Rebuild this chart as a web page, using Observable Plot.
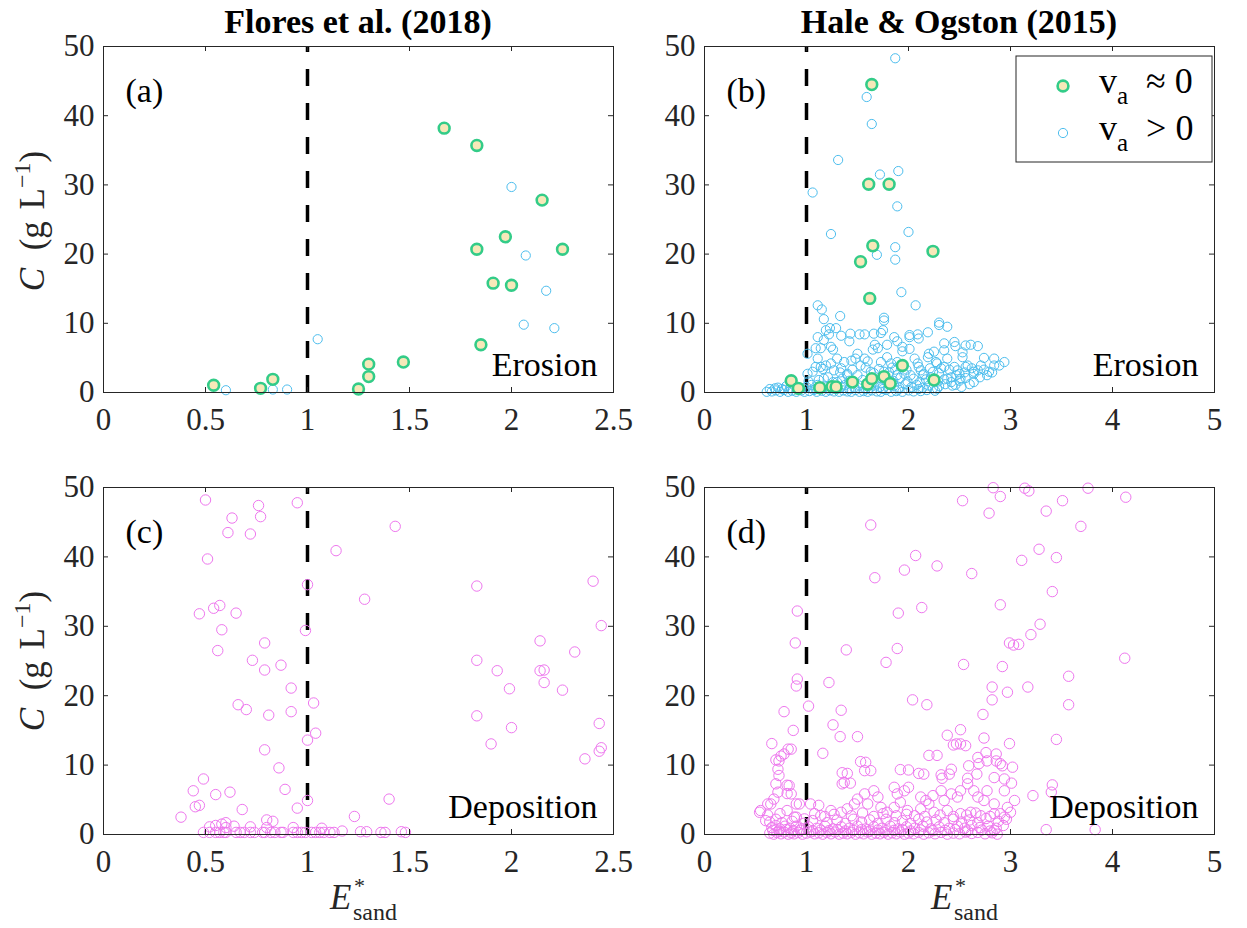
<!DOCTYPE html>
<html><head><meta charset="utf-8">
<script src="https://cdn.jsdelivr.net/npm/d3@7"></script>
<script src="https://cdn.jsdelivr.net/npm/@observablehq/plot@0.6"></script>
<style>
html,body{margin:0;padding:0;background:#fff;}
#fig{position:relative;width:1247px;height:928px;background:#fff;overflow:hidden;}
#fig > svg{position:absolute;}
</style></head><body><div id="fig"></div>
<script>
// ---------- data ----------
const titles = ["Flores et al. (2018)", "Hale & Ogston (2015)"];
const panelLetters = ["(a)", "(b)", "(c)", "(d)"];
const regimeWords = ["Erosion", "Deposition"];
const legendLabels = ["≈ 0", "> 0"];
const threshold = 1;
const xTicksFlores = [0, 0.5, 1, 1.5, 2, 2.5];
const xTicksHale = [0, 1, 2, 3, 4, 5];
const yTicks = [0, 10, 20, 30, 40, 50];

// Flores et al. erosion, v_a ≈ 0 (filled)
const floresEroStill = [[1.67,38.2],[1.83,35.7],[2.15,27.8],[1.97,22.5],[1.83,20.7],[2.25,20.7],[1.91,15.8],[2.0,15.5],[1.85,6.9],[1.47,4.4],[1.30,4.1],[1.30,2.3],[1.25,0.5],[0.54,1.05],[0.77,0.6],[0.83,1.9]];
// Flores et al. erosion, v_a > 0
const floresEroMoving = [[2.0,29.7],[2.07,19.8],[2.17,14.7],[2.06,9.8],[2.21,9.3],[1.05,7.7],[0.6,0.33],[0.83,0.43],[0.9,0.43]];
// Hale & Ogston erosion, v_a ≈ 0
const haleEroStill = [[1.64,44.5],[1.61,30.1],[1.81,30.1],[1.65,21.2],[1.53,18.9],[2.24,20.4],[1.62,13.6],[1.94,3.9],[0.85,1.7],[0.92,0.6],[1.13,0.7],[1.25,0.85],[1.29,0.8],[1.45,1.5],[1.6,1.2],[1.64,2.0],[1.76,2.3],[1.82,1.3],[2.25,1.8]];
// Hale & Ogston erosion, v_a > 0
const haleEroMoving = [
[1.87,48.3],[1.59,42.7],[1.64,38.8],[1.31,33.6],[1.72,31.5],[1.9,32.0],[1.06,28.9],[1.89,26.9],[1.24,22.9],[2.0,23.2],[1.87,21.0],[1.69,19.9],[1.87,19.2],[1.93,14.5],[2.07,12.6],[1.11,12.6],[1.15,12.0],[1.17,10.6],[1.33,11.05],[1.76,10.8],[1.76,10.4],[2.3,10.1],[2.3,9.75],[1.23,9.3],[1.11,8.0],[1.34,8.2],[1.52,8.4],[1.66,8.5],[1.75,9.0],[2.09,8.4],[2.01,8.0],[1.42,7.4],[1.89,7.4],[2.35,7.1],[2.46,6.7],[2.61,6.9],[2.53,5.8],[2.74,5.0],[2.84,3.9],[2.82,2.9],[2.68,3.2],[1.09,6.4],[1.24,6.6],[1.26,6.2],[1.94,6.6],[1.94,5.95],[1.65,6.2],[1.67,6.9],[1.79,6.9],[2.2,5.6],[2.25,5.9],[1.01,5.6],
[1.09,3.7],[1.19,3.9],[1.27,3.2],[1.37,4.4],[1.44,4.6],[1.5,5.6],[1.57,4.9],[1.4,2.7],[1.21,2.2],[1.83,4.2],[1.96,2.7],[2.09,4.2],[2.15,2.7],[2.28,4.2],[2.35,3.7],[2.42,2.2],[2.48,3.2],[2.56,3.7],[2.64,2.7],[2.43,1.0],[2.28,0.55],
[1.19,9.0],[1.29,9.3],[1.22,8.4],[1.17,7.6],[1.43,8.5],[1.57,8.4],[1.73,8.6],[1.86,8.0],[2.01,8.3],[2.1,7.8],[2.19,8.7],[2.38,9.5],[2.45,7.3],[2.56,6.8],[2.68,6.7],[2.84,4.9],[2.94,4.4],[1.14,6.4],[1.3,4.9],[1.34,3.5],[1.14,3.7],[1.24,4.2],[1.48,4.9],[1.53,3.9],[1.6,4.5],[1.7,6.4],[1.73,4.4],[1.79,5.1],[1.84,3.6],[1.89,4.4],[2.01,6.3],[2.06,4.9],[2.1,3.7],[2.19,5.1],[2.27,4.4],[2.32,3.5],[2.38,4.9],[2.45,3.7],[2.5,2.7],[2.58,3.9],[2.64,3.0],[2.71,3.9],[2.79,3.0],[2.89,3.9],[2.53,5.1],[2.35,6.1],[1.11,4.9],[1.01,2.7],[1.4,2.5],[1.5,2.5],[1.63,3.0],[1.76,3.0],[1.89,2.5],[2.02,2.5],[2.14,2.5],[2.24,3.0],[2.38,2.0],[2.51,2.0],[2.64,1.5],[1.17,2.0],[1.3,1.5],[1.11,1.1],
[0.61,0.1],[0.66,0.15],[0.7,0.3],[0.74,0.1],[0.78,0.35],[0.82,0.1],[0.86,0.25],[0.9,0.1],[0.95,0.3],[0.98,0.1],[1.03,0.2],[1.07,0.35],[1.1,0.1],[1.15,0.25],[1.19,0.1],[1.23,0.3],[1.27,0.15],[1.32,0.1],[1.36,0.3],[1.4,0.15],[1.44,0.1],[1.48,0.35],[1.52,0.1],[1.56,0.2],[1.6,0.1],[1.64,0.3],[1.69,0.15],[1.73,0.1],[1.78,0.35],[1.83,0.1],[1.88,0.2],[1.94,0.1],[2.0,0.3],[2.05,0.15],[2.12,0.2],[2.18,0.35],[2.26,0.25],
[0.64,0.5],[0.69,0.6],[0.76,0.5],[0.84,0.6],[0.92,0.4],[1.09,0.5],[1.13,0.6],[1.29,0.5],[1.42,0.5],[1.58,0.5],[1.75,0.5],[1.9,0.4],[2.1,0.5],[2.24,0.6],
[0.72,0.7],[0.8,0.9],[1.0,0.8],[1.05,1.1],[1.18,0.9],[1.22,0.6],[1.34,0.8],[1.38,1.1],[1.47,0.7],[1.52,1.0],[1.62,0.6],[1.66,1.0],[1.72,0.8],[1.8,0.6],[1.86,1.0],[1.91,0.7],[1.97,1.2],[2.03,0.8],[2.08,1.1],[2.14,0.7],[2.2,1.0],[2.3,0.9],[2.36,1.2],[2.46,1.1],[2.52,0.8],[2.6,1.2],
[1.02,1.6],[1.12,1.8],[1.26,1.5],[1.35,2.0],[1.42,1.7],[1.55,1.8],[1.68,1.6],[1.74,2.0],[1.85,1.7],[1.92,2.1],[1.99,1.6],[2.05,2.0],[2.11,1.5],[2.17,1.9],[2.22,2.2],[2.29,1.6],[2.35,1.9],[2.42,1.5],[2.5,1.7],[2.56,2.1],[2.7,2.2],[2.77,2.5],
[1.06,3.0],[1.16,3.4],[1.33,2.9],[1.45,3.3],[1.58,3.6],[1.66,2.8],[1.71,3.4],[1.81,2.9],[1.87,3.3],[1.98,3.3],[2.12,3.2],[2.21,3.5],[2.3,2.8],[2.4,3.3],[2.47,2.5],[2.55,2.9],[2.62,3.5],[2.74,3.3]
];
// Flores et al. deposition
const floresDep = [
[0.50,48.2],[0.76,47.4],[0.95,47.8],[0.63,45.6],[0.77,45.8],[0.61,43.5],[0.72,43.3],[1.43,44.4],[1.14,40.9],[0.51,39.7],[1.0,36.0],[1.83,35.8],[2.40,36.5],[1.28,33.9],[0.47,31.8],[0.54,32.6],[0.57,33.0],[0.65,31.9],[0.58,29.5],[0.99,29.4],[2.44,30.1],[0.79,27.6],[0.56,26.5],[2.14,27.9],[2.31,26.3],[0.73,25.1],[1.83,25.1],[0.79,23.7],[0.87,24.4],[1.93,23.6],[2.14,23.6],[2.16,23.7],[2.16,21.9],[0.92,21.1],[1.99,21.0],[2.25,20.8],[0.66,18.7],[0.70,18.0],[1.03,18.95],[0.92,17.7],[0.81,17.2],[1.83,17.1],[2.43,16.0],[1.04,14.6],[1.0,13.6],[2.0,15.4],[1.9,13.05],[0.79,12.2],[2.44,12.5],[2.43,12.0],[2.36,10.9],[0.86,9.6],[0.49,8.0],[0.44,6.3],[0.62,6.1],[0.55,5.75],[0.89,6.5],[0.45,4.0],[0.47,4.2],[1.0,4.9],[1.40,5.1],[0.68,3.6],[0.95,3.8],[0.38,2.5],[1.23,2.6],[0.80,2.1],[0.83,1.9],[0.60,1.7],
[0.52,1.1],[0.55,1.3],[0.6,1.0],[0.64,1.2],[0.72,1.1],[0.8,1.0],[0.93,1.0],[1.07,0.9],[0.58,1.5],
[0.49,0.3],[0.52,0.3],[0.55,0.3],[0.57,0.3],[0.59,0.3],[0.6,0.3],[0.65,0.3],[0.67,0.3],[0.69,0.3],[0.72,0.3],[0.74,0.3],[0.78,0.3],[0.79,0.3],[0.82,0.3],[0.84,0.3],[0.87,0.3],[0.88,0.3],[0.93,0.3],[0.95,0.3],[0.97,0.3],[0.99,0.3],[1.02,0.3],[1.04,0.3],[1.06,0.3],[1.08,0.3],[1.11,0.3],[1.13,0.3],[1.17,0.5],[1.26,0.4],[1.29,0.4],[1.36,0.3],[1.38,0.3],[1.46,0.4],[1.48,0.3]
];
// Hale & Ogston deposition
const haleDep = [
[2.83,49.97],[3.14,49.9],[3.18,49.5],[3.76,49.9],[2.9,48.7],[2.53,48.1],[3.51,48.1],[4.13,48.6],[2.79,46.3],[3.35,46.6],[3.69,44.4],[1.63,44.6],[3.28,41.1],[2.07,40.2],[3.11,39.5],[3.45,39.9],[2.28,38.7],[1.96,38.1],[1.67,37.0],[2.62,37.6],[3.41,35.0],[0.91,32.2],[2.13,32.7],[1.9,31.9],[2.9,33.1],[3.29,30.3],[3.2,28.8],[0.89,27.6],[2.99,27.6],[3.03,27.3],[3.08,27.4],[1.39,26.6],[1.89,26.8],[1.78,24.8],[2.54,24.5],[2.92,24.2],[4.12,25.4],[3.57,22.8],[0.91,22.4],[0.9,21.4],[1.22,21.9],[2.82,21.25],[2.82,19.4],[3.17,21.25],[2.97,20.5],[2.04,19.4],[2.18,18.7],[1.02,18.5],[3.57,18.7],[0.78,17.7],[1.34,17.9],[2.73,17.3],[1.26,15.8],[0.87,15.0],[1.33,14.1],[1.5,14.1],[2.38,14.3],[2.51,15.1],[2.74,13.9],[3.45,13.7],[0.66,13.1],[2.44,12.9],[2.47,13.05],[2.99,13.1],[0.82,12.3],[1.16,11.7],[2.2,11.4],[0.7,10.75],[0.75,11.3],[1.53,10.5],[1.57,9.2],[1.35,8.9],[1.35,7.3],[1.37,7.5],[1.92,9.35],[2.1,8.8],[2.86,10.6],[2.92,9.9],[3.01,7.4],[3.41,7.15],[3.4,6.1],[3.22,5.6],[3.35,0.7],[3.83,0.7],
[2.76,11.8],[2.68,11.1],[2.69,10.2],[2.32,8.6],[2.33,8.1],[2.58,8.1],
[0.85,12.3],[0.78,11.6],[0.73,10.6],[0.72,9.4],[0.73,8.5],[0.7,7.3],[0.72,6.1],[0.68,5.1],[0.55,3.45],[0.65,4.4],[0.6,2.0],[0.83,7.05],[0.85,5.85],[0.93,4.4],[0.81,3.45],[0.9,2.5],[1.04,4.4],[1.12,4.2],[1.4,8.8],[1.43,7.4],[1.58,10.4],[1.63,9.2],[2.0,9.3],[2.15,8.7],[2.28,11.4],[2.42,9.4],[2.4,8.7],[2.59,9.9],[2.67,8.7],[2.77,10.6],[2.86,11.6],[2.9,10.2],[2.84,8.2],[2.94,8.0],[3.02,9.7],[2.51,13.05],[2.56,12.8],
[1.57,5.85],[1.5,5.1],[1.6,4.4],[1.66,6.3],[1.7,5.4],[1.86,6.8],[1.89,5.85],[1.92,4.65],[1.96,6.3],[2.0,6.8],[2.12,5.4],[2.17,4.9],[2.2,4.4],[2.24,5.6],[2.32,6.3],[2.35,4.9],[2.42,5.85],[2.48,5.4],[2.51,6.3],[2.58,7.3],[2.64,6.3],[2.68,5.4],[2.74,4.9],[2.77,6.3],[2.84,4.4],[2.94,6.3],[2.97,3.9],[3.04,4.9],
[1.47,4.4],[1.4,3.7],[1.34,3.2],[1.24,3.45],[1.14,2.7],[1.08,3.0],[0.98,2.25],[1.73,3.9],[1.79,3.2],[1.86,3.9],[1.99,3.45],[2.06,2.7],[2.12,3.7],[2.25,3.2],[2.38,3.45],[2.51,3.0],[2.61,3.2],[2.71,2.7],[2.84,3.0],[2.94,2.5],[3.0,3.2],
[0.54,3.2],[0.62,4.4],[0.81,7.1],[0.81,5.9],[0.9,4.4],[0.88,2.5],
[0.64,0.2],[0.68,0.05],[0.71,0.3],[0.75,0.1],[0.78,0.35],[0.82,0.05],[0.85,0.25],[0.88,0.1],[0.92,0.3],[0.96,0.05],[1.0,0.2],[1.04,0.35],[1.08,0.1],[1.12,0.25],[1.16,0.05],[1.2,0.3],[1.24,0.1],[1.28,0.35],[1.32,0.05],[1.36,0.2],[1.4,0.1],[1.44,0.3],[1.48,0.05],[1.52,0.25],[1.56,0.1],[1.6,0.35],[1.64,0.05],[1.68,0.2],[1.72,0.1],[1.76,0.3],[1.8,0.05],[1.84,0.25],[1.88,0.1],[1.92,0.35],[1.96,0.05],[2.0,0.2],[2.05,0.1],[2.1,0.3],[2.15,0.05],[2.2,0.25],[2.26,0.1],[2.32,0.3],[2.38,0.05],[2.44,0.2],[2.5,0.1],[2.56,0.35],[2.62,0.15],[2.68,0.3],[2.75,0.1],[2.82,0.25],[2.87,0.05],[2.84,0.6],
[0.67,0.6],[0.73,0.5],[0.8,0.7],[0.87,0.55],[0.94,0.6],[1.06,0.5],[1.14,0.65],[1.22,0.55],[1.3,0.7],[1.38,0.5],[1.46,0.6],[1.54,0.7],[1.62,0.5],[1.7,0.65],[1.78,0.55],[1.86,0.6],[1.94,0.7],[2.02,0.5],[2.12,0.65],[2.24,0.55],[2.36,0.6],[2.46,0.7],[2.58,0.5],[2.72,0.65],[2.8,0.5],
[0.66,1.0],[0.7,1.3],[0.74,0.8],[0.79,1.2],[0.84,0.9],[0.9,1.2],[0.95,0.8],[1.02,1.1],[1.1,0.9],[1.18,1.2],[1.26,0.8],[1.34,1.1],[1.42,0.9],[1.5,1.2],[1.58,0.8],[1.66,1.1],[1.74,0.9],[1.82,1.2],[1.9,0.8],[1.98,1.1],[2.06,0.9],[2.14,1.2],[2.22,0.8],[2.3,1.1],[2.4,0.9],[2.48,1.2],[2.55,0.9],[2.62,1.3],[2.7,1.0],[2.78,1.2],[2.86,0.9],[2.93,1.3],
[0.64,1.8],[0.7,2.2],[0.76,1.7],[0.86,1.9],[0.97,1.6],[1.06,2.0],[1.2,1.7],[1.3,2.1],[1.38,1.6],[1.46,2.2],[1.54,1.8],[1.62,2.1],[1.7,1.6],[1.78,2.2],[1.86,1.7],[1.94,2.0],[2.02,1.6],[2.1,2.2],[2.18,1.8],[2.27,2.1],[2.35,1.7],[2.44,2.2],[2.52,1.8],[2.6,2.1],[2.68,1.7],[2.76,2.3],[2.88,1.9],[2.96,2.2],
[0.62,2.8],[0.74,3.0],[1.18,2.6],[1.27,2.9],[1.44,2.7],[1.55,3.1],[1.66,2.6],[1.75,3.0],[1.88,2.7],[1.98,2.9],[2.16,2.6],[2.31,2.8],[2.44,2.6],[2.57,2.8],[2.66,3.1],[2.8,2.6],[2.9,3.0]
];

// ---------- styling ----------
const COL = {frame: "#262626", blue: "#4dbeee", green: "#33cc88", beige: "#f7e8b9", magenta: "#ee77ee"};
const FONT = "'Liberation Serif','Times New Roman',serif";
const fig = document.getElementById("fig");
const fmt = d => String(d);

const movingDots = d => Plot.dot(d, {x: p => p[0], y: p => p[1], r: 4.6, stroke: COL.blue, strokeWidth: 1, fill: "none"});
const stillDots = d => Plot.dot(d, {x: p => p[0], y: p => p[1], r: 5.4, stroke: COL.green, strokeWidth: 2.6, fill: COL.beige});
const depDots = d => Plot.dot(d, {x: p => p[0], y: p => p[1], r: 5.2, stroke: COL.magenta, strokeWidth: 1, fill: "none"});

function panel({xDomain, xTicks, layers, letter, word, left, top, width, height, ml, mr, mt, mb}) {
  const pw = width - ml - mr, ph = height - mt - mb;
  const svg = Plot.plot({
    width, height, marginLeft: ml, marginRight: mr, marginTop: mt, marginBottom: mb,
    style: {fontFamily: FONT, fontSize: "31px", color: COL.frame, background: "transparent", overflow: "visible"},
    x: {domain: xDomain, ticks: xTicks, tickFormat: fmt, tickSize: 0, tickPadding: 15, label: null},
    y: {domain: [0, 50], ticks: yTicks, tickFormat: fmt, tickSize: 0, tickPadding: 9, label: null},
    marks: [
      Plot.ruleX([threshold], {x: d => d, y1: 0, y2: 50, stroke: "black", strokeWidth: 3.5, strokeDasharray: "17,17"}),
      ...layers,
      Plot.tickX(xTicks, {x: d => d, insetTop: ph - 5, stroke: COL.frame}),
      Plot.tickX(xTicks, {x: d => d, insetBottom: ph - 5, stroke: COL.frame}),
      Plot.tickY(yTicks, {y: d => d, insetRight: pw - 5, stroke: COL.frame}),
      Plot.tickY(yTicks, {y: d => d, insetLeft: pw - 5, stroke: COL.frame}),
      Plot.frame({stroke: COL.frame, strokeWidth: 1}),
      Plot.text([letter], {text: d => d, frameAnchor: "top-left", textAnchor: "start", lineAnchor: "middle", dx: 22, dy: 45, fontSize: 34, fill: "black"}),
      Plot.text([word], {text: d => d, frameAnchor: "bottom-right", textAnchor: "end", lineAnchor: "middle", dx: -16, dy: -27, fontSize: 34, fill: "black"})
    ]
  });
  svg.style.left = left + "px";
  svg.style.top = top + "px";
  fig.appendChild(svg);
}

panel({xDomain: [0, 2.5], xTicks: xTicksFlores, layers: [movingDots(floresEroMoving), stillDots(floresEroStill)],
  letter: panelLetters[0], word: regimeWords[0], left: 0, top: 0, width: 650, height: 445, ml: 103, mr: 37, mt: 46, mb: 53});
panel({xDomain: [0, 5], xTicks: xTicksHale, layers: [movingDots(haleEroMoving), stillDots(haleEroStill)],
  letter: panelLetters[1], word: regimeWords[0], left: 650, top: 0, width: 597, height: 445, ml: 54, mr: 33, mt: 46, mb: 53});
panel({xDomain: [0, 2.5], xTicks: xTicksFlores, layers: [depDots(floresDep)],
  letter: panelLetters[2], word: regimeWords[1], left: 0, top: 445, width: 650, height: 483, ml: 103, mr: 37, mt: 42, mb: 94});
panel({xDomain: [0, 5], xTicks: xTicksHale, layers: [depDots(haleDep)],
  letter: panelLetters[3], word: regimeWords[1], left: 650, top: 445, width: 597, height: 483, ml: 54, mr: 33, mt: 42, mb: 94});

// ---------- overlay: titles, axis labels, legend ----------
const ov = d3.select(fig).append("svg")
  .attr("width", 1247).attr("height", 928)
  .style("left", "0px").style("top", "0px").style("pointer-events", "none")
  .style("font-family", FONT);

const colCenters = [358, 959];
titles.forEach((t, i) => {
  ov.append("text").attr("x", colCenters[i]).attr("y", 33).attr("text-anchor", "middle")
    .attr("font-size", 34).attr("font-weight", "bold").attr("fill", "black").text(t);
});

[221, 661].forEach(cy => {
  const t = ov.append("text").attr("transform", `translate(44,${cy}) rotate(-90)`)
    .attr("text-anchor", "middle").attr("font-size", 35).attr("fill", COL.frame);
  t.append("tspan").attr("font-style", "italic").text("C");
  t.append("tspan").text("\u2002(g\u2004L");
  t.append("tspan").attr("font-size", 24).attr("dy", -14).text("−1");
  t.append("tspan").attr("dy", 14).text(")");
});

colCenters.forEach(cx => {
  ov.append("text").attr("x", cx - 28).attr("y", 909).attr("font-size", 35).attr("font-style", "italic").attr("fill", COL.frame).text("E");
  ov.append("text").attr("x", cx - 4).attr("y", 893).attr("font-size", 22).attr("fill", COL.frame).text("*");
  ov.append("text").attr("x", cx - 5).attr("y", 920).attr("font-size", 24).attr("fill", COL.frame).text("sand");
});

// legend
const lg = ov.append("g");
lg.append("rect").attr("x", 1016).attr("y", 56).attr("width", 196).attr("height", 106)
  .attr("fill", "white").attr("stroke", COL.frame).attr("stroke-width", 1);
lg.append("circle").attr("cx", 1063).attr("cy", 86).attr("r", 5.4).attr("fill", COL.beige).attr("stroke", COL.green).attr("stroke-width", 2.6);
lg.append("circle").attr("cx", 1063).attr("cy", 133).attr("r", 4.6).attr("fill", "none").attr("stroke", COL.blue).attr("stroke-width", 1);
[[93, legendLabels[0]], [140, legendLabels[1]]].forEach(([y, lab]) => {
  const t = lg.append("text").attr("x", 1099).attr("y", y).attr("font-size", 36).attr("fill", "black");
  t.append("tspan").text("v");
  t.append("tspan").attr("font-size", 25).attr("dy", 11).text("a");
  t.append("tspan").attr("dy", -11).text("\u2002" + lab);
});
</script>
</body></html>
